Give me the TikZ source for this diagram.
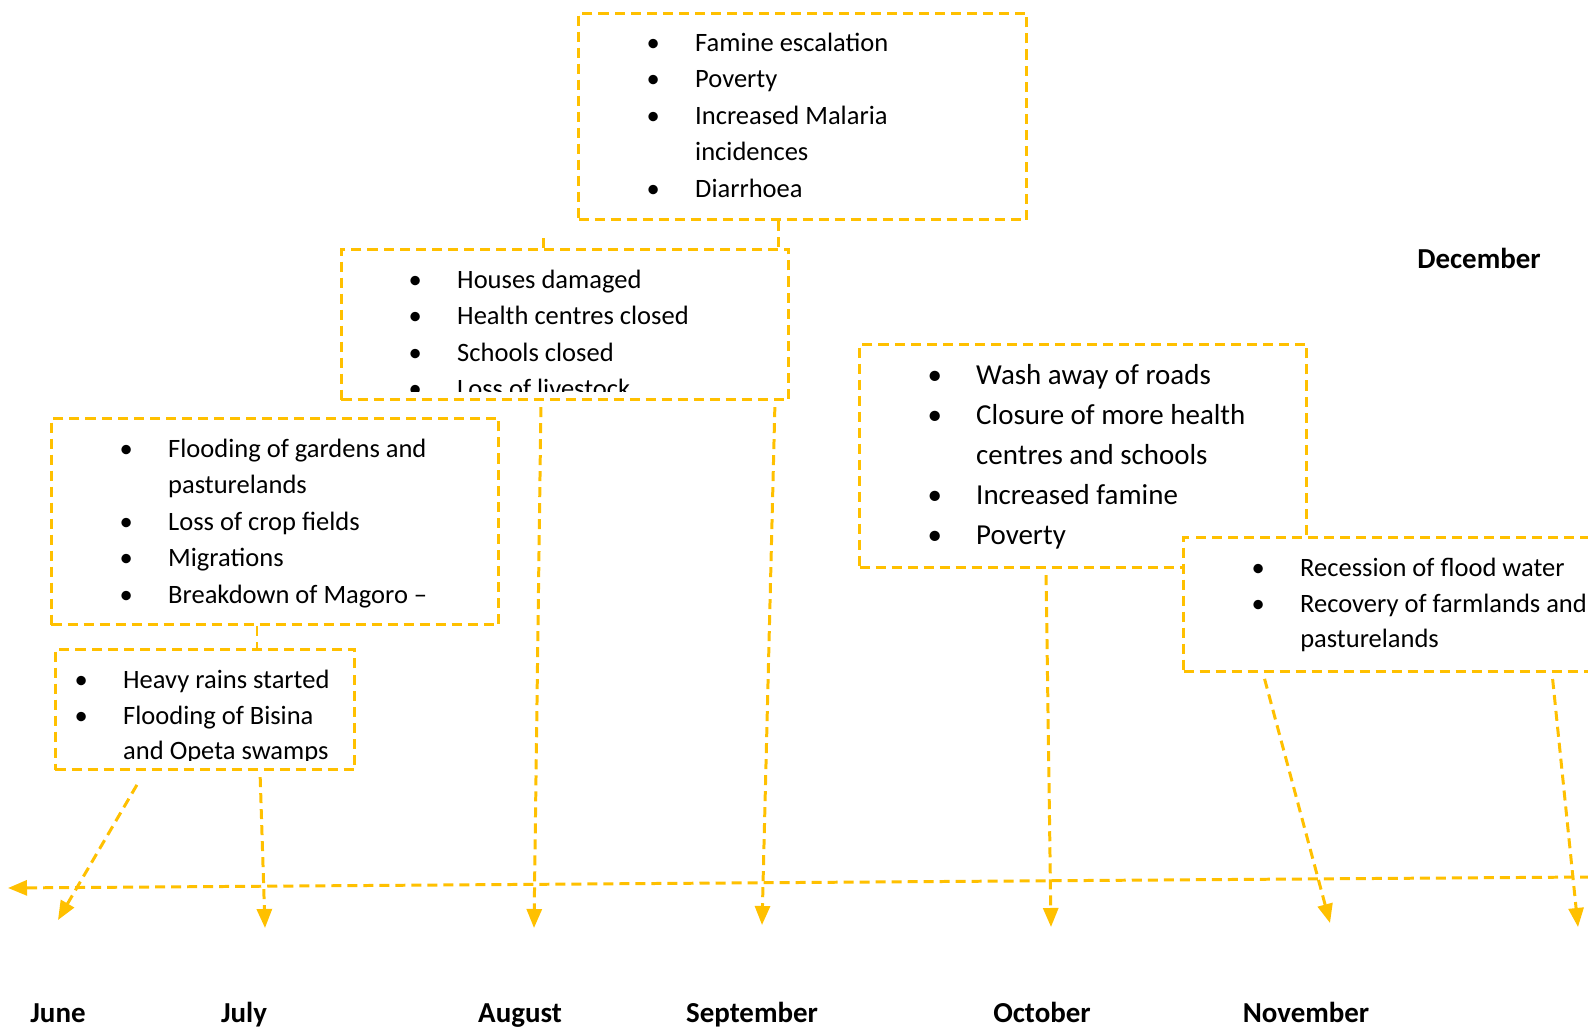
\documentclass[tikz,border=0pt]{standalone}
\usepackage{fontspec}
\setmainfont{Carlito}
\usepackage{tikz}
\usetikzlibrary{arrows.meta}
\definecolor{floodgold}{HTML}{FFC000}

\newcommand{\bul}{\strut\makebox[0.485cm][l]{\textbullet}}
\newcommand{\cont}{\strut\hspace*{0.485cm}}

\begin{document}
\begin{tikzpicture}[x=0.01cm,y=-0.01cm,
eventbox/.style={draw=floodgold, dash pattern=on 0.1cm off 0.06cm, line width=0.85pt, fill=white, anchor=north west, inner sep=0pt},
itemlist/.style={anchor=north west, inner sep=0pt, align=left, font=\fontsize{7.54}{10.38}\selectfont},
link/.style={draw=floodgold, dash pattern=on 0.1cm off 0.06cm, line width=0.85pt},
arrowlink/.style={link, -{Triangle[width=0.15cm,length=0.19cm]}, shorten <=0.06cm},
monthlabel/.style={anchor=base, font=\bfseries\fontsize{8.23}{10}\selectfont}
]
\useasboundingbox (0,0) rectangle (1588,1031);
% Boxes
\node[eventbox, minimum width=4.48cm, minimum height=2.06cm] (famine)    at (577,12)  {};
\node[eventbox, minimum width=4.47cm, minimum height=1.50cm] (houses)    at (340,248) {};
\node[eventbox, minimum width=4.47cm, minimum height=2.06cm] (flooding)  at (50,417)  {};
\node[eventbox, minimum width=2.99cm, minimum height=1.20cm] (rains)     at (54,648)  {};
\node[eventbox, minimum width=4.47cm, minimum height=2.23cm] (roads)     at (858,343) {};
\node[eventbox, minimum width=4.48cm, minimum height=1.34cm] (recession) at (1182,536) {};
% Lists
\node[itemlist] (famine list) at (646,25) {\bul Famine escalation\\ \bul Poverty\\ \bul Increased Malaria\\ \cont incidences\\ \bul Diarrhoea};
\begin{scope}
\clip (houses.north west) rectangle ([yshift=0.1cm]houses.south east);
\node[itemlist] (houses list) at (408,262) {\bul Houses damaged\\ \bul Health centres closed\\ \bul Schools closed\\ \bul Loss of livestock};
\end{scope}
\node[itemlist] (flooding list) at (119,431) {\bul Flooding of gardens and\\ \cont pasturelands\\ \bul Loss of crop fields\\ \bul Migrations\\ \bul Breakdown of Magoro --};
\begin{scope}
\clip (rains.north west) rectangle ([yshift=0.11cm]rains.south east);
\node[itemlist, font=\fontsize{7.54}{10.1}\selectfont] (rains list) at (74,663) {\bul Heavy rains started\\ \bul Flooding of Bisina\\ \cont and Opeta swamps};
\end{scope}
\node[itemlist, font=\fontsize{8.23}{11.38}\selectfont] (roads list) at (927,356) {\bul Wash away of roads\\ \bul Closure of more health\\ \cont centres and schools\\ \bul Increased famine\\ \bul Poverty};
\node[eventbox, minimum width=4.48cm, minimum height=1.34cm] (recession) at (1182,536) {};
\node[itemlist, font=\fontsize{7.54}{10.1}\selectfont] (recession list) at (1251,551) {\bul Recession of flood water\\ \bul Recovery of farmlands and\\ \cont pasturelands};
% Links between boxes
\draw[link] (famine.south -| 778,0) -- (houses.north -| 778,0);
\draw[link] (houses.north -| 543,0) -- ++(0,-10);
\draw[link] (flooding.south -| 257,0) -- (rains.north -| 257,0);
% Time line
\coordinate (line east) at (1590,877);
\coordinate (line west) at (8,888);
\draw[link, -{Triangle[width=0.15cm,length=0.19cm]}] (line east) -- (line west);
% Arrows to months
\coordinate (jun tip) at (58,920);
\coordinate (jul tip) at (265,928);
\coordinate (aug tip) at (534,928);
\coordinate (sep tip) at (762,925);
\coordinate (oct tip) at (1051,927);
\coordinate (nov tip) at (1330,923);
\coordinate (dec tip) at (1578,927);
\draw[arrowlink, shorten <=0.16cm] (rains.south -| 145,0) -- (jun tip);
\draw[arrowlink] (rains.south -| 260,0) -- (jul tip);
\draw[arrowlink] (houses.south -| 541,0) -- (aug tip);
\draw[arrowlink] (houses.south -| 775,0) -- (sep tip);
\draw[arrowlink] (roads.south -| 1046,0) -- (oct tip);
\draw[arrowlink] (recession.south -| 1263,0) -- (nov tip);
\draw[arrowlink] (recession.south -| 1552,0) -- (dec tip);
% Months
\node[monthlabel] (jun) at (58,1022)  {June};
\node[monthlabel] (jul) at (244,1022) {July};
\node[monthlabel] (aug) at (520,1022) {August};
\node[monthlabel] (sep) at (752,1022) {September};
\node[monthlabel] (oct) at (1042,1022) {October};
\node[monthlabel] (nov) at (1306,1022) {November};
\node[monthlabel] (dec) at (1479,269) {December};
\end{tikzpicture}
\end{document}
